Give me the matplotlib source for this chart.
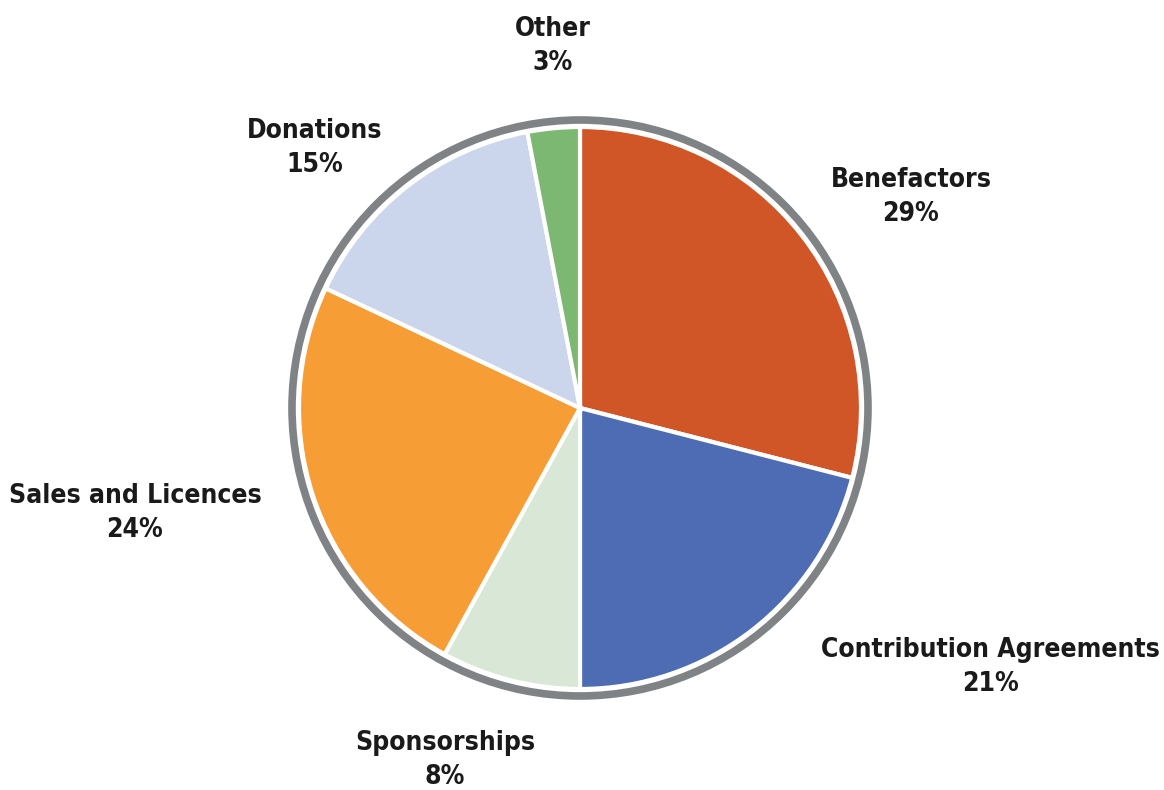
import matplotlib.pyplot as plt
from matplotlib.patches import Circle

plt.rcParams['font.family'] = ['DejaVu Sans']

labels = ['Benefactors', 'Contribution Agreements', 'Sponsorships',
          'Sales and Licences', 'Donations', 'Other']
shares = [29, 21, 8, 24, 15, 3]
colors = ['#D05527', '#4E6CB3', '#D8E7D6', '#F79D35', '#CBD5EC', '#7CB871']

# layout in pixel units (y up)
W, H = 1164, 790
cx, cy = 580, H - 408
r_pie = 281
label_pos = [(911, 197), (990, 667), (445, 760), (135, 513), (315, 148), (553, 46)]

fig = plt.figure(figsize=(W / 100, H / 100), dpi=100)
ax = fig.add_axes([0, 0, 1, 1])
ax.set_xlim(0, W)
ax.set_ylim(0, H)
ax.set_aspect('equal')
ax.axis('off')

ax.pie(shares, colors=colors, startangle=90, counterclock=False,
       center=(cx, cy), radius=r_pie,
       wedgeprops=dict(edgecolor='white', linewidth=3))
ax.set_xlim(0, W)
ax.set_ylim(0, H)

ax.add_patch(Circle((cx, cy), r_pie + 7, fill=False, edgecolor='#808386', linewidth=5.5))

for lab, val, (px, py) in zip(labels, shares, label_pos):
    ax.text(px, H - py, f'{lab}\n{val}%', ha='center', va='center',
            fontsize=19, fontweight='bold', fontstretch='condensed',
            color='#1a1a1a', linespacing=1.38)

fig.savefig('out.png', dpi=100)
